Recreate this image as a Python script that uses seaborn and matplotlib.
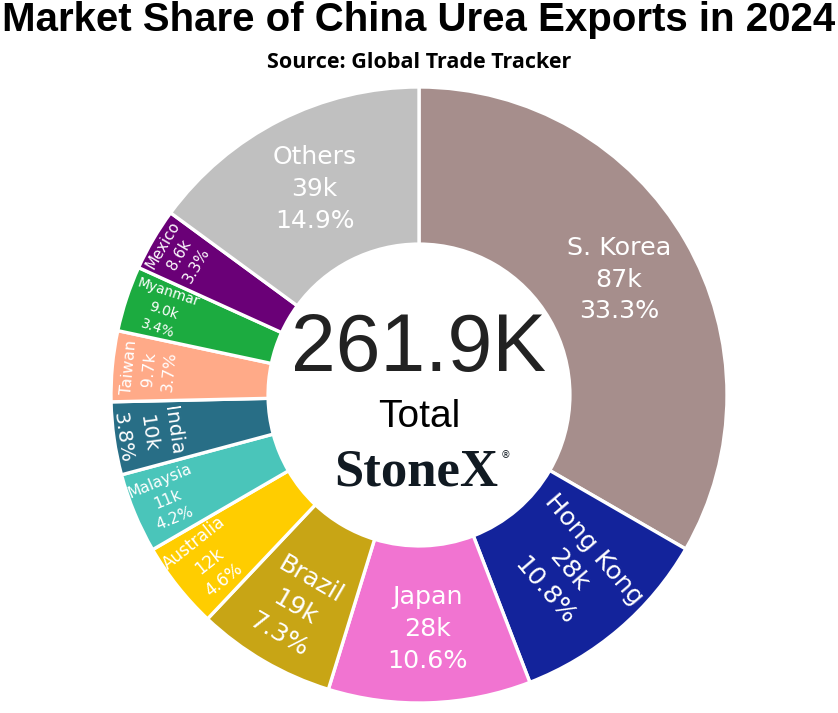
import numpy as np
import matplotlib
matplotlib.use("Agg")
import matplotlib.pyplot as plt
import seaborn as sns

sns.set_style("white")

# Data (thousand tonnes), clockwise from 12 o'clock
countries = ['S. Korea', 'Hong Kong', 'Japan', 'Brazil', 'Australia', 'Malaysia',
             'India', 'Taiwan', 'Myanmar', 'Mexico', 'Others']
volumes = [87.3, 28.3, 27.8, 19.1, 12.0, 11.0, 10.0, 9.7, 9.0, 8.6, 39.1]
hex_colors = ['#A68E8C', '#13239B', '#F174D1', '#C8A515', '#FFCD00', '#4AC5BA',
              '#286E86', '#FFAA88', '#1CAB40', '#6A0077', '#C0C0C0']

# label styling per slice: orientation (h=horizontal, r=radial, t=tangential), size, radius
orient = ['h', 'r', 'h', 't', 'r', 'r', 't', 't', 'r', 't', 'h']
fsizes = [18.3, 18.3, 18.3, 18.3, 12.2, 11.2, 14.5, 11.5, 9.8, 10.8, 18.0]
lab_r = [0.75, 0.75, 0.76, 0.80, 0.87, 0.885, 0.89, 0.88, 0.875, 0.90, 0.75]

total = sum(volumes)
palette = sns.color_palette(hex_colors)

fig = plt.figure(figsize=(8.38, 7.13), dpi=100)
ax = fig.add_axes([111 / 838, 10 / 713, 616 / 838, 616 / 713])

wedges, _ = ax.pie(volumes, colors=palette, startangle=90, counterclock=False,
                   radius=1.0, wedgeprops=dict(width=0.51, edgecolor='white', linewidth=2.4))

for w, name, v, o, fs, r in zip(wedges, countries, volumes, orient, fsizes, lab_r):
    mid = np.deg2rad((w.theta1 + w.theta2) / 2)
    x, y = r * np.cos(mid), r * np.sin(mid)
    deg = np.rad2deg(mid)
    if o == 'h':
        rot = 0
    elif o == 'r':
        rot = deg
        if np.cos(mid) < 0:
            rot = deg + 180
    else:
        rot = deg - 90
        if np.sin(mid) < 0:
            rot = deg + 90
    rot = (rot + 180) % 360 - 180
    vtxt = f"{v:.1f}k" if v < 10 else f"{v:.0f}k"
    pct = v / total * 100
    ax.text(x, y, f"{name}\n{vtxt}\n{pct:.1f}%", ha='center', va='center',
            rotation=rot, rotation_mode='anchor', color='white', fontsize=fs,
            family='DejaVu Sans', linespacing=1.42)

ax.set_xlim(-1, 1)
ax.set_ylim(-1, 1)
ax.set_aspect('equal')
ax.axis('off')

# center text
ax.text(0, 0.145, f"{total:.1f}K", ha='center', va='center', fontsize=58,
        family=['Liberation Sans', 'DejaVu Sans'], color='#222222')
ax.text(0, -0.07, "Total", ha='center', va='center', fontsize=28,
        family=['Liberation Sans', 'DejaVu Sans'], color='black')
ax.text(-0.01, -0.25, "StoneX", ha='center', va='center', fontsize=38,
        family=['Liberation Serif', 'DejaVu Serif'], weight='bold', color='#111a22')
ax.text(0.28, -0.195, "®", ha='center', va='center', fontsize=7, color='#111a22')

fig.text(0.5, 0.972, "Market Share of China Urea Exports in 2024", ha='center', va='center',
         fontsize=29, weight='bold', color='black',
         family=['Liberation Sans Narrow', 'Liberation Sans', 'DejaVu Sans'])
fig.text(0.5, 0.912, "Source: Global Trade Tracker", ha='center', va='center',
         fontsize=15.5, weight='bold', color='black', family=['Open Sans', 'DejaVu Sans'])

fig.savefig("out.png", dpi=100, facecolor='white')
